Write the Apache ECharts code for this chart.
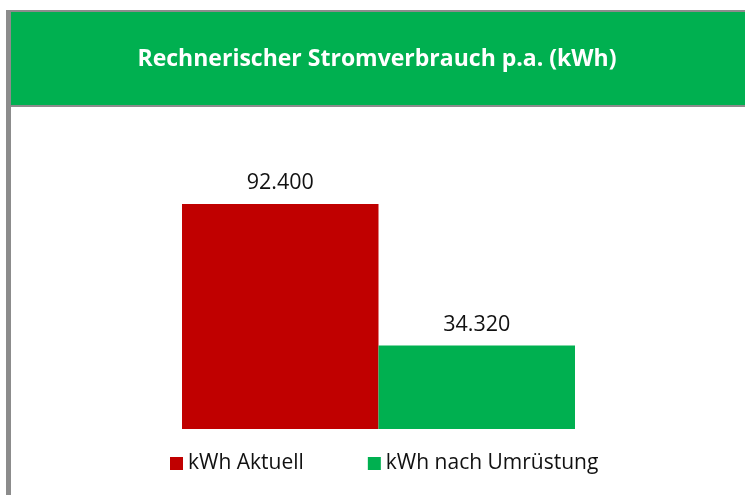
<!DOCTYPE html>
<html>
<head>
<meta charset="utf-8">
<script src="https://cdn.jsdelivr.net/npm/echarts@6/dist/echarts.min.js"></script>
<style>
  html, body { margin: 0; padding: 0; background: #fff; }
  #chart { width: 745px; height: 495px; }
</style>
</head>
<body>
<div id="chart"></div>
<script>
// Daten aus dem Diagramm
const categories = [""];
const seriesNames = ["kWh Aktuell", "kWh nach Umrüstung"];
const valuesAktuell = [92400];
const valuesNachUmruestung = [34320];
const seriesColors = ["#C00000", "#00B050"];

// Tausendertrennzeichen wie im Original (92.400)
const formatDe = (v) => String(Math.round(v)).replace(/\B(?=(\d{3})+(?!\d))/g, ".");

const chart = echarts.init(document.getElementById("chart"));

const labelStyle = {
    show: true,
    position: "top",
    distance: 10,
    fontFamily: "Open Sans",
    fontSize: 21.5,
    color: "#111",
    formatter: (p) => formatDe(p.value)
};

const option = {
    animation: false,
    backgroundColor: "#fff",
    graphic: [
        // grauer Rahmen links und oben
        { type: "rect", shape: { x: 6, y: 10, width: 5, height: 490 }, style: { fill: "#8c8c8c" }, silent: true },
        { type: "rect", shape: { x: 6, y: 10, width: 745, height: 2 }, style: { fill: "#8c8c8c" }, silent: true },
        // grüner Kopfbereich
        { type: "rect", shape: { x: 11, y: 12, width: 740, height: 93 }, style: { fill: "#00B050" }, silent: true },
        { type: "rect", shape: { x: 11, y: 105, width: 740, height: 2 }, style: { fill: "#8c8c8c" }, silent: true }
    ],
    title: {
        text: "Rechnerischer Stromverbrauch p.a. (kWh)",
        left: 372,
        textAlign: "center",
        top: 43,
        textStyle: {
            fontFamily: "Open Sans",
            fontWeight: "bold",
            fontSize: 23,
            color: "#fff"
        }
    },
    legend: {
        data: seriesNames,
        left: 165,
        bottom: 16,
        itemWidth: 13,
        itemHeight: 13,
        itemGap: 64,
        textStyle: { fontFamily: "Open Sans", fontSize: 21, color: "#111" },
        icon: "rect"
    },
    grid: { left: 182, right: 170, top: 185.5, bottom: 66 },
    xAxis: {
        type: "category",
        data: categories,
        show: false
    },
    yAxis: {
        type: "value",
        min: 0,
        max: 100000,
        show: false
    },
    series: [
        {
            name: seriesNames[0],
            type: "bar",
            data: valuesAktuell,
            itemStyle: { color: seriesColors[0] },
            barGap: "0%",
            barCategoryGap: "0%",
            label: labelStyle
        },
        {
            name: seriesNames[1],
            type: "bar",
            data: valuesNachUmruestung,
            itemStyle: { color: seriesColors[1] },
            barGap: "0%",
            barCategoryGap: "0%",
            label: labelStyle
        }
    ]
};

chart.setOption(option);
</script>
</body>
</html>
